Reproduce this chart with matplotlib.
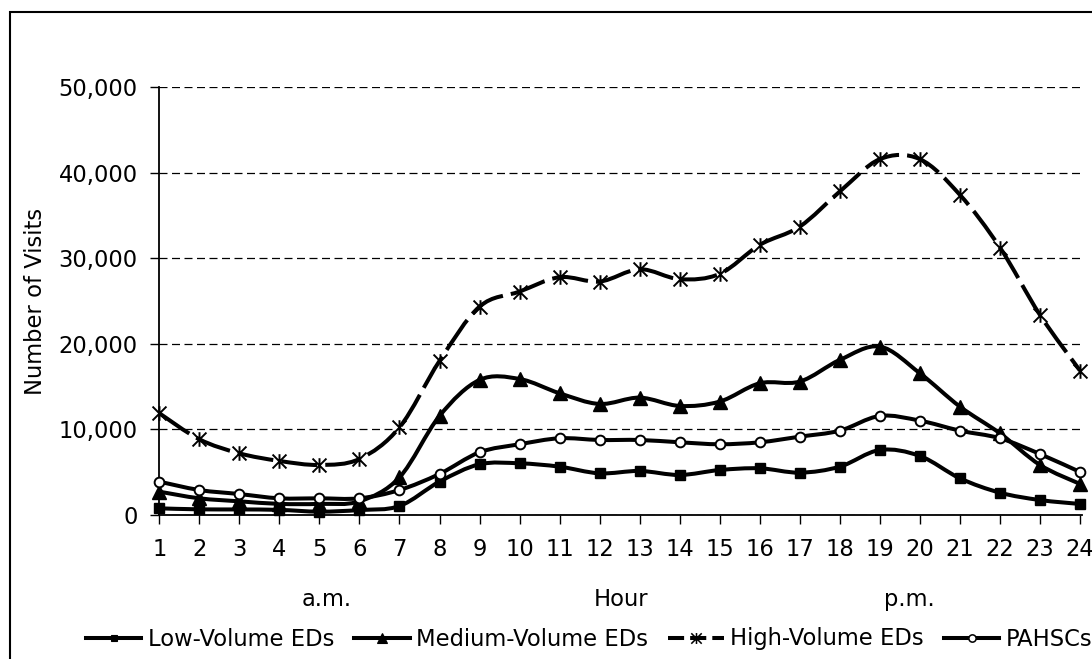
import matplotlib
matplotlib.use("Agg")
import matplotlib.pyplot as plt
from matplotlib.path import Path
from matplotlib.patches import PathPatch, Rectangle
from matplotlib.lines import Line2D
from matplotlib.ticker import FuncFormatter

# Hourly visit counts by facility type
hours = list(range(1, 25))
low_volume = [780, 660, 650, 600, 390, 580, 1050, 3900, 5930, 6040, 5650, 4870,
              5150, 4680, 5260, 5460, 4950, 5650, 7600, 6900, 4290, 2610, 1750, 1290]
medium_volume = [2730, 1950, 1600, 1300, 1300, 1600, 4400, 11580, 15790, 15900, 14230, 12980,
                 13720, 12750, 13260, 15400, 15600, 18130, 19690, 16570, 12670, 9550, 5850, 3630]
high_volume = [11900, 8850, 7210, 6320, 5850, 6550, 10250, 18010, 24360, 26120, 27800, 27290,
               28730, 27570, 28190, 31580, 33720, 37820, 41600, 41600, 37430, 31270, 23390, 16880]
pahscs = [3900, 2920, 2450, 1950, 1950, 1950, 2920, 4800, 7330, 8270, 8970, 8770,
          8770, 8500, 8270, 8500, 9160, 9860, 11580, 11030, 9860, 8970, 7130, 5030]

series_names = ["Low-Volume EDs", "Medium-Volume EDs", "High-Volume EDs", "PAHSCs"]
y_ticks = [0, 10000, 20000, 30000, 40000, 50000]

FONT = 16.3
plt.rcParams["font.family"] = ["DejaVu Sans"]
plt.rcParams["font.size"] = FONT

# asterisk-style marker: an X crossed by a vertical bar
star = Path([(-1, -1), (1, 1), (-1, 1), (1, -1), (0, -1.05), (0, 1.05)],
            [Path.MOVETO, Path.LINETO, Path.MOVETO, Path.LINETO, Path.MOVETO, Path.LINETO])


def smooth_path(xs, ys):
    """Bezier path through every point (Catmull-Rom style control points)."""
    pts = list(zip(xs, ys))
    n = len(pts)
    verts = [pts[0]]
    codes = [Path.MOVETO]
    for i in range(n - 1):
        p0 = pts[i - 1] if i > 0 else pts[i]
        p1 = pts[i]
        p2 = pts[i + 1]
        p3 = pts[i + 2] if i + 2 < n else pts[i + 1]
        c1 = (p1[0] + (p2[0] - p0[0]) / 6.0, p1[1] + (p2[1] - p0[1]) / 6.0)
        c2 = (p2[0] - (p3[0] - p1[0]) / 6.0, p2[1] - (p3[1] - p1[1]) / 6.0)
        verts += [c1, c2, p2]
        codes += [Path.CURVE4, Path.CURVE4, Path.CURVE4]
    return Path(verts, codes)


fig = plt.figure(figsize=(10.92, 6.59), dpi=100)
W, H = 1092.0, 659.0
ax = fig.add_axes([159.3 / W, 1 - 515 / H, (1082 - 159.3) / W, (515 - 87.3) / H])

styles = [
    dict(ls="-", marker="s", ms=6.6, mfc="black", mec="black", mew=1.0),
    dict(ls="-", marker="^", ms=9.5, mfc="black", mec="black", mew=1.0),
    dict(ls=(0, (9, 2)), marker=star, ms=10.5, mfc="none", mec="black", mew=1.4),
    dict(ls="-", marker="o", ms=7.0, mfc="white", mec="black", mew=1.4),
]
data = [low_volume, medium_volume, high_volume, pahscs]
LW = 2.9

handles = []
for k, (vals, st) in enumerate(zip(data, styles)):
    patch = PathPatch(smooth_path(hours, vals), facecolor="none", edgecolor="black",
                      lw=LW, linestyle=st["ls"], joinstyle="round", capstyle="butt",
                      zorder=3 + k, clip_on=False)
    ax.add_patch(patch)
    ax.plot(hours, vals, linestyle="none", marker=st["marker"], ms=st["ms"],
            mfc=st["mfc"], mec=st["mec"], mew=st["mew"], zorder=3.5 + k, clip_on=False)
    handles.append(Line2D([], [], color="black", lw=LW,
                          linestyle=(0, (4, 1.5)) if k == 2 else st["ls"],
                          marker=st["marker"], ms=st["ms"] * 0.75,
                          mfc=st["mfc"], mec=st["mec"], mew=st["mew"] * 0.8))

ax.set_xlim(1, 24.05)
ax.set_ylim(0, 50000)
ax.set_xticks(hours)
ax.set_yticks(y_ticks)
ax.yaxis.set_major_formatter(FuncFormatter(lambda v, p: f"{int(v):,}"))

ax.grid(axis="y", color="black", lw=0.9, linestyle=(0, (6.4, 3.6)))
ax.set_axisbelow(True)
for side in ("top", "right"):
    ax.spines[side].set_visible(False)
for side in ("left", "bottom"):
    ax.spines[side].set_linewidth(1.3)
ax.tick_params(axis="both", direction="out", length=6.5, width=1.0, labelsize=FONT)
ax.tick_params(axis="y", pad=9)
ax.tick_params(axis="x", pad=10)

ax.set_ylabel("Number of Visits", fontsize=FONT)
ax.yaxis.set_label_coords(-0.122, 0.5)

label_y = (515 - 606) / (515 - 87.3)
ax.text(0.1817, label_y, "a.m.", transform=ax.transAxes, ha="center", va="baseline", fontsize=FONT)
ax.text(0.5, label_y, "Hour", transform=ax.transAxes, ha="center", va="baseline", fontsize=FONT)
ax.text(0.8125, label_y, "p.m.", transform=ax.transAxes, ha="center", va="baseline", fontsize=FONT)

fig.legend(handles, series_names, loc="center left", bbox_to_anchor=(86 / W, 1 - 639 / H),
           ncol=4, frameon=False, handlelength=2.45, handletextpad=0.27, columnspacing=0.9,
           borderpad=0, borderaxespad=0, fontsize=FONT)

# outer frame of the chart area
frame = Rectangle((9.5 / W, -0.1), 1.2, (H - 12) / H + 0.1, transform=fig.transFigure,
                  fill=False, edgecolor="black", lw=1.5, clip_on=False)
fig.add_artist(frame)

fig.savefig("out.png", dpi=100)
